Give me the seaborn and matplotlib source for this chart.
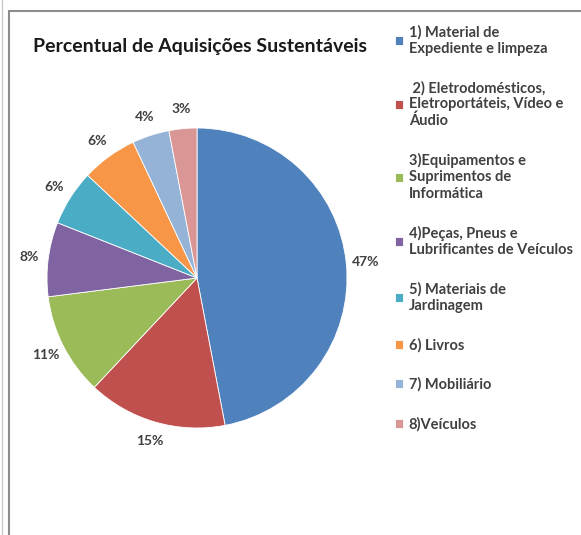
import matplotlib
matplotlib.use("Agg")
import matplotlib.pyplot as plt
import seaborn as sns
from matplotlib.lines import Line2D

categories = [
    "1) Material de\nExpediente e limpeza",
    " 2) Eletrodomésticos,\nEletroportáteis, Vídeo e\nÁudio",
    "3)Equipamentos e\nSuprimentos de\nInformática",
    "4)Peças, Pneus e\nLubrificantes de Veículos",
    "5) Materiais de\nJardinagem",
    "6) Livros",
    "7) Mobiliário",
    "8)Veículos",
]
percent = [47, 15, 11, 8, 6, 6, 4, 3]
colors = ["#4F81BD", "#C0504D", "#9BBB59", "#8064A2",
          "#4BACC6", "#F79646", "#95B3D7", "#D99694"]

sns.set_theme(style="white")
plt.rcParams['font.family'] = ['Lato', 'DejaVu Sans']
palette = sns.color_palette(colors)

fig = plt.figure(figsize=(5.81, 5.35), dpi=100)

# chart area border (top and left edges)
top = 1 - 11 / 535
left = 8.5 / 581
fig.add_artist(Line2D([left, 1.0], [top, top], transform=fig.transFigure,
                      color="#8c8c8c", linewidth=1.5))
fig.add_artist(Line2D([left, left], [0, top], transform=fig.transFigure,
                      color="#8c8c8c", linewidth=1.5))
fig.add_artist(Line2D([2 / 581, 2 / 581], [0, 1], transform=fig.transFigure,
                      color="#c8c8c8", linewidth=1.0))

ax = fig.add_axes([47 / 581, 1 - 428 / 535, 300 / 581, 300 / 535])
wedges, _, autotexts = ax.pie(percent, colors=palette, startangle=90,
                              counterclock=False, radius=1,
                              autopct=lambda p: f"{p:.0f}%",
                              pctdistance=1.13,
                              wedgeprops=dict(linewidth=0.6, edgecolor="white"))
for t in autotexts:
    t.set_fontsize(10)
    t.set_fontweight("bold")
    t.set_color("#404040")
ax.set_xlim(-1, 1)
ax.set_ylim(-1, 1)
ax.set_aspect("equal")

fig.text(200 / 581, 1 - 47 / 535, "Percentual de Aquisições Sustentáveis",
         ha="center", va="center", fontsize=14, fontweight="bold",
         color="#1a1a1a")

leg = fig.legend(wedges, categories, loc="upper left",
                 bbox_to_anchor=(389 / 581, 1 - 19 / 535), frameon=False,
                 prop=dict(weight="bold", size=10.5),
                 labelspacing=1.72, handlelength=0.55, handleheight=0.55,
                 handletextpad=0.4, borderaxespad=0)
for t in leg.get_texts():
    t.set_color("#404040")
    t.set_linespacing(1.2)

fig.savefig("out.png", dpi=100)
